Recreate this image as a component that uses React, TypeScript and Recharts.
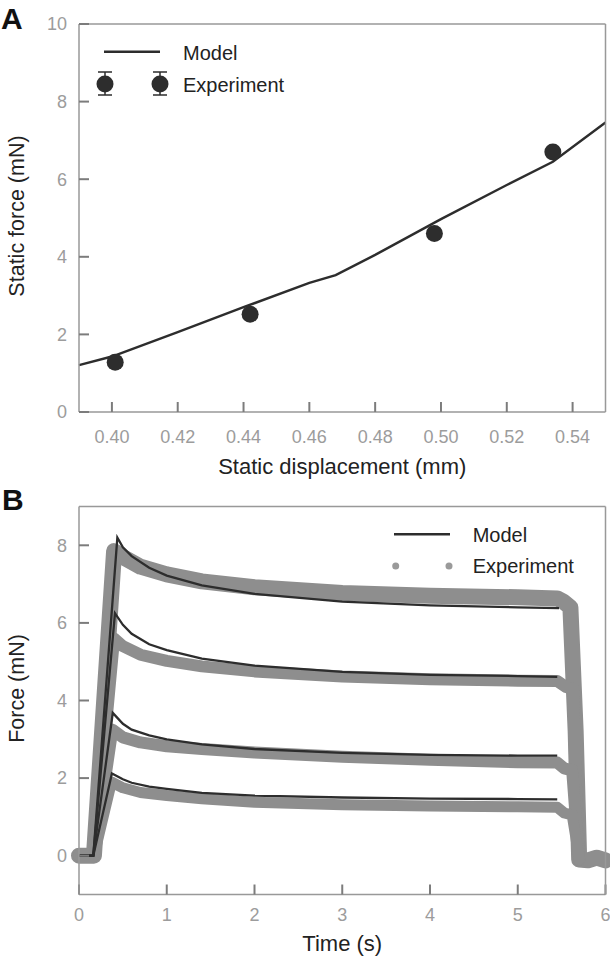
import React from "react";
import { ComposedChart, Line, XAxis, YAxis } from "recharts";

// Panel A: static force vs static displacement
const expDisp = [0.401, 0.442, 0.498, 0.534];
const expForce = [1.28, 2.52, 4.6, 6.7];
const modelDisp = [0.39, 0.4, 0.42, 0.44, 0.46, 0.468, 0.48, 0.5, 0.52, 0.534, 0.55];
const modelForce = [1.21, 1.43, 2.06, 2.7, 3.33, 3.53, 4.05, 4.97, 5.85, 6.45, 7.46];
const dispTicks = [0.4, 0.42, 0.44, 0.46, 0.48, 0.5, 0.52, 0.54];
const staticForceTicks = [0, 2, 4, 6, 8, 10];

// Panel B: force vs time, four steps
const model1T = [0, 0.163, 0.437, 0.5, 0.6, 0.8, 1.0, 1.4, 2.0, 3.0, 4.0, 5.0, 5.47];
const model1F = [0, 0, 8.2, 7.95, 7.72, 7.42, 7.22, 6.97, 6.75, 6.55, 6.45, 6.4, 6.38];
const model2T = [0, 0.163, 0.41, 0.5, 0.6, 0.8, 1.0, 1.4, 2.0, 3.0, 4.0, 5.0, 5.45];
const model2F = [0, 0, 6.25, 5.95, 5.72, 5.45, 5.3, 5.08, 4.9, 4.74, 4.66, 4.63, 4.61];
const model3T = [0, 0.163, 0.385, 0.5, 0.6, 0.8, 1.0, 1.4, 2.0, 3.0, 4.0, 5.0, 5.45];
const model3F = [0, 0, 3.68, 3.4, 3.25, 3.1, 3.0, 2.87, 2.75, 2.65, 2.6, 2.58, 2.58];
const model4T = [0, 0.163, 0.375, 0.5, 0.6, 0.8, 1.0, 1.4, 2.0, 3.0, 4.0, 5.0, 5.45];
const model4F = [0, 0, 2.12, 1.97, 1.88, 1.78, 1.72, 1.62, 1.55, 1.5, 1.47, 1.46, 1.45];

const exp1T = [0, 0.17, 0.4, 0.5, 0.7, 1.0, 1.4, 2.0, 3.0, 4.0, 5.0, 5.45, 5.52, 5.6, 5.66, 5.7, 5.8, 5.9, 6.0];
const exp1F = [0, 0, 7.85, 7.7, 7.45, 7.25, 7.07, 6.92, 6.77, 6.7, 6.66, 6.63, 6.55, 6.4, 3.2, -0.1, -0.12, -0.05, -0.12];
const exp2T = [0, 0.17, 0.4, 0.5, 0.7, 1.0, 1.4, 2.0, 3.0, 4.0, 5.0, 5.45, 5.55, 5.63, 5.66, 5.7];
const exp2F = [0, 0, 5.6, 5.4, 5.18, 5.02, 4.88, 4.75, 4.62, 4.55, 4.51, 4.5, 4.35, 4.3, 2.0, -0.1];
const exp3T = [0, 0.17, 0.38, 0.5, 0.7, 1.0, 1.4, 2.0, 3.0, 4.0, 5.0, 5.45, 5.53, 5.62, 5.66, 5.7];
const exp3F = [0, 0, 3.25, 3.05, 2.92, 2.82, 2.75, 2.66, 2.55, 2.47, 2.41, 2.4, 2.25, 2.2, 1.0, -0.1];
const exp4T = [0, 0.17, 0.37, 0.5, 0.7, 1.0, 1.4, 2.0, 3.0, 4.0, 5.0, 5.45, 5.53, 5.62, 5.66, 5.7];
const exp4F = [0, 0, 1.9, 1.75, 1.63, 1.55, 1.47, 1.38, 1.31, 1.28, 1.26, 1.25, 1.1, 1.05, 0.5, -0.1];
const timeTicks = [0, 1, 2, 3, 4, 5, 6];
const forceTicks = [0, 2, 4, 6, 8];

const zip = (xs: number[], ys: number[]) => xs.map((x, i) => ({ x, y: ys[i] }));

const FONT = '"Liberation Sans", Arial, Helvetica, sans-serif';
const AXIS = "#999999";
const TICK = "#9c9c9c";
const DARK = "#2d2d2d";
const GRAY = "#8e8e8e";

// inward tick marks: negative tick size, labels pushed back out with tickMargin
const axisCommon = {
  stroke: AXIS,
  axisLine: { stroke: AXIS, strokeWidth: 1.5 },
  tickLine: { stroke: "#7c7c7c", strokeWidth: 2 },
  tickSize: -10,
};
const tickFont = { fill: TICK, fontSize: 18, fontFamily: FONT };
// mirror axes (top / right) keep their tick lines but show no labels
const noLabel = () => <g />;

function YTitle({ viewBox, text, shift }: any) {
  const cy = viewBox.y + viewBox.height / 2 + shift;
  return (
    <text
      x={17}
      y={cy}
      transform={`rotate(-90, 17, ${cy})`}
      textAnchor="middle"
      dominantBaseline="central"
      fontSize={21.5}
      fill="#222"
      fontFamily={FONT}
    >
      {text}
    </text>
  );
}

function PanelA() {
  const model = zip(modelDisp, modelForce);
  const exp = zip(expDisp, expForce);
  return (
    <ComposedChart width={610} height={480} margin={{ top: 22, right: 2.5, bottom: 0, left: 0 }}>
      <XAxis
        xAxisId="b"
        type="number"
        dataKey="x"
        domain={[0.39, 0.55]}
        ticks={dispTicks}
        tickFormatter={(v: number) => v.toFixed(2)}
        height={68}
        tickMargin={28}
        tick={tickFont}
        label={{ value: "Static displacement (mm)", position: "insideBottom", offset: 6, fontSize: 22, fill: "#222", fontFamily: FONT }}
        {...axisCommon}
      />
      <XAxis xAxisId="t" orientation="top" type="number" dataKey="x" domain={[0.39, 0.55]} ticks={dispTicks} height={2} tick={noLabel} {...axisCommon} />
      <YAxis
        yAxisId="l"
        type="number"
        domain={[0, 10]}
        ticks={staticForceTicks}
        width={79}
        tickMargin={22}
        tick={tickFont}
        label={{ content: (p: any) => <YTitle viewBox={p.viewBox} text="Static force (mN)" shift={-2} /> }}
        {...axisCommon}
      />
      <YAxis yAxisId="r" orientation="right" type="number" domain={[0, 10]} ticks={staticForceTicks} width={2} tick={noLabel} {...axisCommon} />
      <Line xAxisId="b" yAxisId="l" data={model} dataKey="y" type="linear" stroke={DARK} strokeWidth={2.4} dot={false} isAnimationActive={false} />
      <Line
        xAxisId="b"
        yAxisId="l"
        data={exp}
        dataKey="y"
        stroke="none"
        dot={{ r: 8.5, fill: DARK, stroke: "none" }}
        isAnimationActive={false}
      />
    </ComposedChart>
  );
}

function PanelB() {
  const exps = [zip(exp1T, exp1F), zip(exp2T, exp2F), zip(exp3T, exp3F), zip(exp4T, exp4F)];
  const widths = [16, 12, 12, 11];
  const models = [zip(model1T, model1F), zip(model2T, model2F), zip(model3T, model3F), zip(model4T, model4F)];
  return (
    <ComposedChart width={610} height={481} margin={{ top: 22.5, right: 2.5, bottom: 0, left: 0 }}>
      <XAxis
        xAxisId="b"
        type="number"
        dataKey="x"
        domain={[0, 6]}
        ticks={timeTicks}
        height={68.5}
        tickMargin={24}
        tick={tickFont}
        label={{ value: "Time (s)", position: "insideBottom", offset: 12, fontSize: 22, fill: "#222", fontFamily: FONT }}
        {...axisCommon}
      />
      <XAxis xAxisId="t" orientation="top" type="number" dataKey="x" domain={[0, 6]} ticks={timeTicks} height={2} tick={noLabel} {...axisCommon} />
      <YAxis
        yAxisId="l"
        type="number"
        domain={[-1, 9]}
        ticks={forceTicks}
        width={79}
        tickMargin={22}
        tick={tickFont}
        label={{ content: (p: any) => <YTitle viewBox={p.viewBox} text="Force (mN)" shift={-12} /> }}
        {...axisCommon}
      />
      <YAxis yAxisId="r" orientation="right" type="number" domain={[-1, 9]} ticks={forceTicks} width={2} tick={noLabel} {...axisCommon} />
      {exps.map((d, i) => (
        <Line
          key={"e" + i}
          xAxisId="b"
          yAxisId="l"
          data={d}
          dataKey="y"
          type="linear"
          stroke={GRAY}
          strokeWidth={widths[i]}
          strokeLinejoin="round"
          strokeLinecap="round"
          dot={false}
          isAnimationActive={false}
        />
      ))}
      {models.map((d, i) => (
        <Line
          key={"m" + i}
          xAxisId="b"
          yAxisId="l"
          data={d}
          dataKey="y"
          type="linear"
          stroke={DARK}
          strokeWidth={2.3}
          dot={false}
          isAnimationActive={false}
        />
      ))}
    </ComposedChart>
  );
}

export default function App() {
  return (
    <div style={{ position: "absolute", left: 0, top: 0, width: 610, height: 963, background: "#fff", fontFamily: FONT }}>
      <div style={{ position: "absolute", left: 0, top: 0 }}>
        <PanelA />
      </div>
      <div style={{ position: "absolute", left: 0, top: 482 }}>
        <PanelB />
      </div>
      <svg width={610} height={963} style={{ position: "absolute", left: 0, top: 0, pointerEvents: "none" }} fontFamily={FONT}>
        <text x={1} y={29} fontSize={30} fontWeight="bold" fill="#111">A</text>
        <text x={2} y={510} fontSize={30} fontWeight="bold" fill="#111">B</text>

        {/* legend A */}
        <line x1={104} y1={51.7} x2={160} y2={51.7} stroke={DARK} strokeWidth={2.4} />
        <text x={183} y={60} fontSize={20} fill="#222">Model</text>
        {[105, 160].map((cx) => (
          <g key={cx}>
            <line x1={cx} y1={72} x2={cx} y2={95} stroke={DARK} strokeWidth={1.5} />
            <line x1={cx - 7} y1={72} x2={cx + 7} y2={72} stroke={DARK} strokeWidth={1.5} />
            <line x1={cx - 7} y1={95} x2={cx + 7} y2={95} stroke={DARK} strokeWidth={1.5} />
            <circle cx={cx} cy={84} r={8.5} fill={DARK} />
          </g>
        ))}
        <text x={183} y={91.5} fontSize={20} fill="#222">Experiment</text>

        {/* legend B */}
        <line x1={394} y1={534.3} x2={450} y2={534.3} stroke={DARK} strokeWidth={2.4} />
        <text x={472.7} y={542.3} fontSize={20} fill="#222">Model</text>
        <circle cx={395.7} cy={566} r={3.5} fill="#9a9a9a" />
        <circle cx={449} cy={566} r={3.5} fill="#9a9a9a" />
        <text x={472.7} y={573.3} fontSize={20} fill="#222">Experiment</text>
      </svg>
    </div>
  );
}
